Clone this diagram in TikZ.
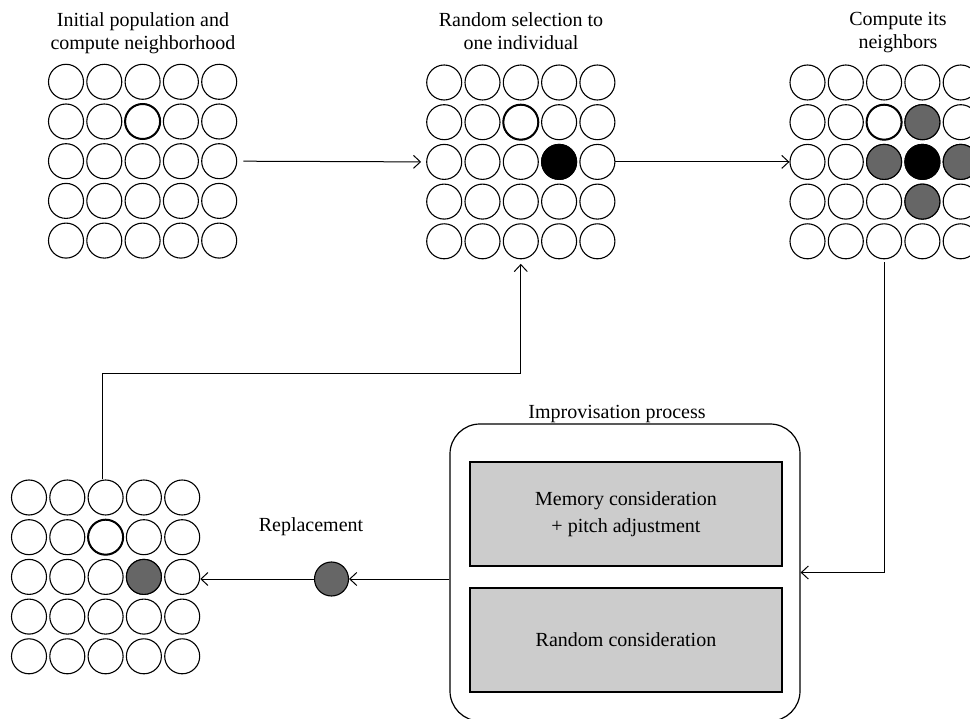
\documentclass[tikz,border=0pt]{standalone}
\usepackage{fontspec}
\setmainfont{Liberation Serif}
\usetikzlibrary{arrows.meta,calc}
\definecolor{nbgray}{HTML}{666666}
\definecolor{boxgray}{HTML}{CCCCCC}
\begin{document}
\begin{tikzpicture}[x=1pt,y=-1pt,
  cell/.style={circle,draw,line width=1.1pt,minimum size=35pt,inner sep=0pt},
  picked/.style={line width=2pt},
  chosen/.style={fill=black},
  neigh/.style={fill=nbgray},
  arr/.style={line width=1pt,-{Straight Barb[length=7pt,width=13pt,line width=1pt]}},
  title/.style={font=\fontsize{20}{23.5}\selectfont,align=center,inner sep=0pt},
  inbox/.style={draw,line width=1.2pt,fill=boxgray,minimum width=312pt,minimum height=104pt,inner sep=0pt,align=center,font=\fontsize{20}{27}\selectfont},
  improv/.style={draw,line width=1.2pt,rounded corners=30pt,minimum width=350pt,minimum height=297pt,inner sep=0pt}
]
\useasboundingbox (0,0) rectangle (970,719);
\begin{scope}
\clip (0,0) rectangle (970,719);
% grids
\foreach \g/\xo/\yo in {1/66/81.8, 2/444.2/82.5, 3/807.5/82.5, 4/29/497.5}{
  \foreach \r in {1,...,5}{
    \foreach \c in {1,...,5}{
      \node[cell] (g\g-\r-\c) at ({\xo+(\c-1)*38.3},{\yo+(\r-1)*39.7}) {};
    }
  }
}
% special cells
\foreach \g in {1,2,3,4}{ \node[cell,picked] at (g\g-2-3) {}; }
\node[cell,chosen] at (g2-3-4) {};
\node[cell,chosen] at (g3-3-4) {};
\node[cell,neigh] at (g3-2-4) {};
\node[cell,neigh] at (g3-3-3) {};
\node[cell,neigh] at (g3-3-5) {};
\node[cell,neigh] at (g3-4-4) {};
\node[cell,neigh] at (g4-3-4) {};

% titles
\node[title,anchor=north] (t1) at (143,12) {Initial population and\\compute neighborhood};
\node[title,anchor=north] (t2) at (521,12) {Random selection to\\one individual};
\node[title,anchor=north] (t3) at (898,12) {Compute its\\neighbors};

% improvisation process
\node[improv] (imp) at (625,572.5) {};
\node[title,anchor=base] (implab) at (617,419) {Improvisation process};
\node[inbox] (mem) at (626,514) {Memory consideration\\+ pitch adjustment};
\node[inbox] (rnd) at (626,640) {Random consideration};

% replacement
\node[cell,neigh,minimum size=34pt] (rep) at (331.5,579) {};
\node[title,anchor=base] (replab) at (311,531) {Replacement};

% connectors
\draw[arr] ([xshift=6pt]g1-3-5.east) -- ([xshift=-5pt]g2-3-1.west);
\draw[arr] (g2-3-5.east) -- (g3-3-1.west);
\draw[arr] ([yshift=-3pt]g3-5-3.south) |- (imp.east);
\draw[arr] (imp.west |- rep.center) -- (rep.east);
\draw[arr] (rep.west) -- (rep.west -| g4-3-5.east);
\coordinate (turn) at (102.3,373.3);
\draw[arr] (g4-1-3.north -| turn) -- (turn) -| ([yshift=-4.5pt]g2-5-3.south);
\end{scope}
\end{tikzpicture}
\end{document}
